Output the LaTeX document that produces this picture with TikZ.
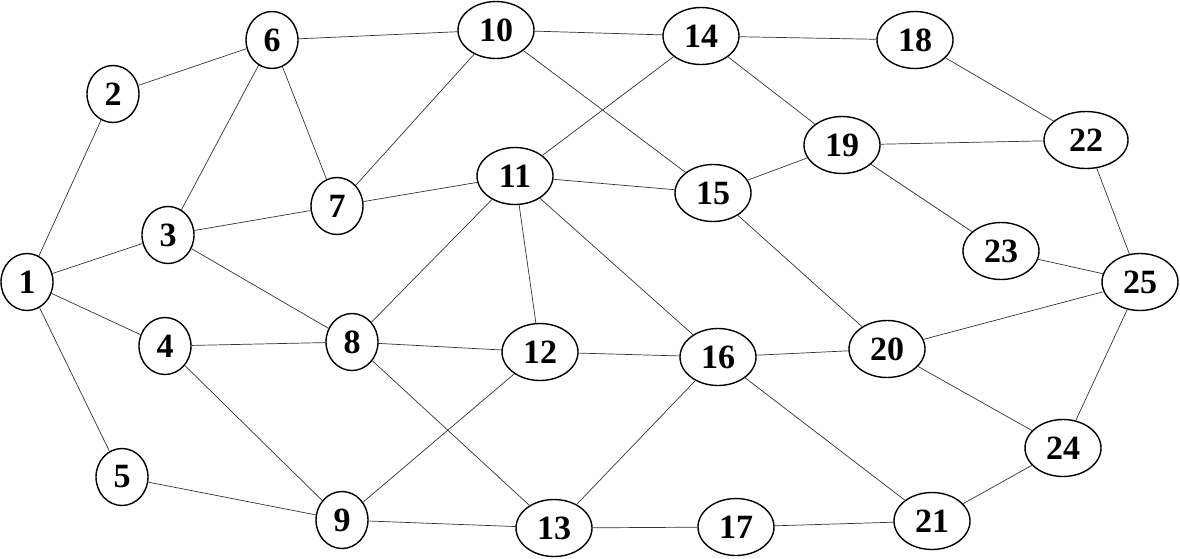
\documentclass[tikz,border=0pt]{standalone}
\usepackage{fontspec}
\setmainfont{Liberation Serif}
\usetikzlibrary{shapes.geometric}
\begin{document}
\begin{tikzpicture}[x=1pt,y=-1pt,
  vtx/.style={ellipse,draw=black,line width=1.4pt,fill=white,inner sep=0pt,
    minimum width=52pt,minimum height=57pt,
    font=\fontsize{34}{38}\selectfont\bfseries},
  wide/.style={minimum width=76pt},
  edge/.style={draw=black!80,line width=0.7pt}]
\useasboundingbox (0,0) rectangle (1180,558);
\node[vtx] (n1) at (27,282) {1};
\node[vtx] (n2) at (113,94) {2};
\node[vtx] (n3) at (168,235) {3};
\node[vtx] (n4) at (165,346) {4};
\node[vtx] (n5) at (122,477) {5};
\node[vtx] (n6) at (272,40) {6};
\node[vtx] (n7) at (337,206) {7};
\node[vtx] (n8) at (352,342) {8};
\node[vtx] (n9) at (342,520) {9};
\node[vtx,wide] (n10) at (496,30) {10};
\node[vtx,wide] (n11) at (515,176) {11};
\node[vtx,wide] (n12) at (540,352) {12};
\node[vtx,wide] (n13) at (554,528) {13};
\node[vtx,wide] (n14) at (701,36) {14};
\node[vtx,wide] (n15) at (713,193) {15};
\node[vtx,wide] (n16) at (718,357) {16};
\node[vtx,wide] (n17) at (736,527) {17};
\node[vtx,wide] (n18) at (915,40) {18};
\node[vtx,wide] (n19) at (842,145) {19};
\node[vtx,wide] (n20) at (887,349) {20};
\node[vtx,wide] (n21) at (932,521) {21};
\node[vtx,wide,minimum width=84pt] (n22) at (1086,140) {22};
\node[vtx,wide] (n23) at (1001,251) {23};
\node[vtx,wide] (n24) at (1063,448) {24};
\node[vtx,wide] (n25) at (1140,282) {25};
\path[edge]
  (n1)--(n2) (n1)--(n3) (n1)--(n4) (n1)--(n5)
  (n2)--(n6)
  (n3)--(n6) (n3)--(n7) (n3)--(n8)
  (n4)--(n8) (n4)--(n9)
  (n5)--(n9)
  (n6)--(n7) (n6)--(n10)
  (n7)--(n10) (n7)--(n11)
  (n8)--(n11) (n8)--(n12) (n8)--(n13)
  (n9)--(n12) (n9)--(n13)
  (n10)--(n14) (n10)--(n15)
  (n11)--(n14) (n11)--(n15) (n11)--(n12) (n11)--(n16)
  (n12)--(n16)
  (n13)--(n16) (n13)--(n17)
  (n14)--(n18) (n14)--(n19)
  (n15)--(n19) (n15)--(n20)
  (n16)--(n20) (n16)--(n21)
  (n17)--(n21)
  (n18)--(n22)
  (n19)--(n22) (n19)--(n23)
  (n20)--(n25) (n20)--(n24)
  (n21)--(n24)
  (n22)--(n25)
  (n23)--(n25)
  (n24)--(n25);
\end{tikzpicture}
\end{document}
